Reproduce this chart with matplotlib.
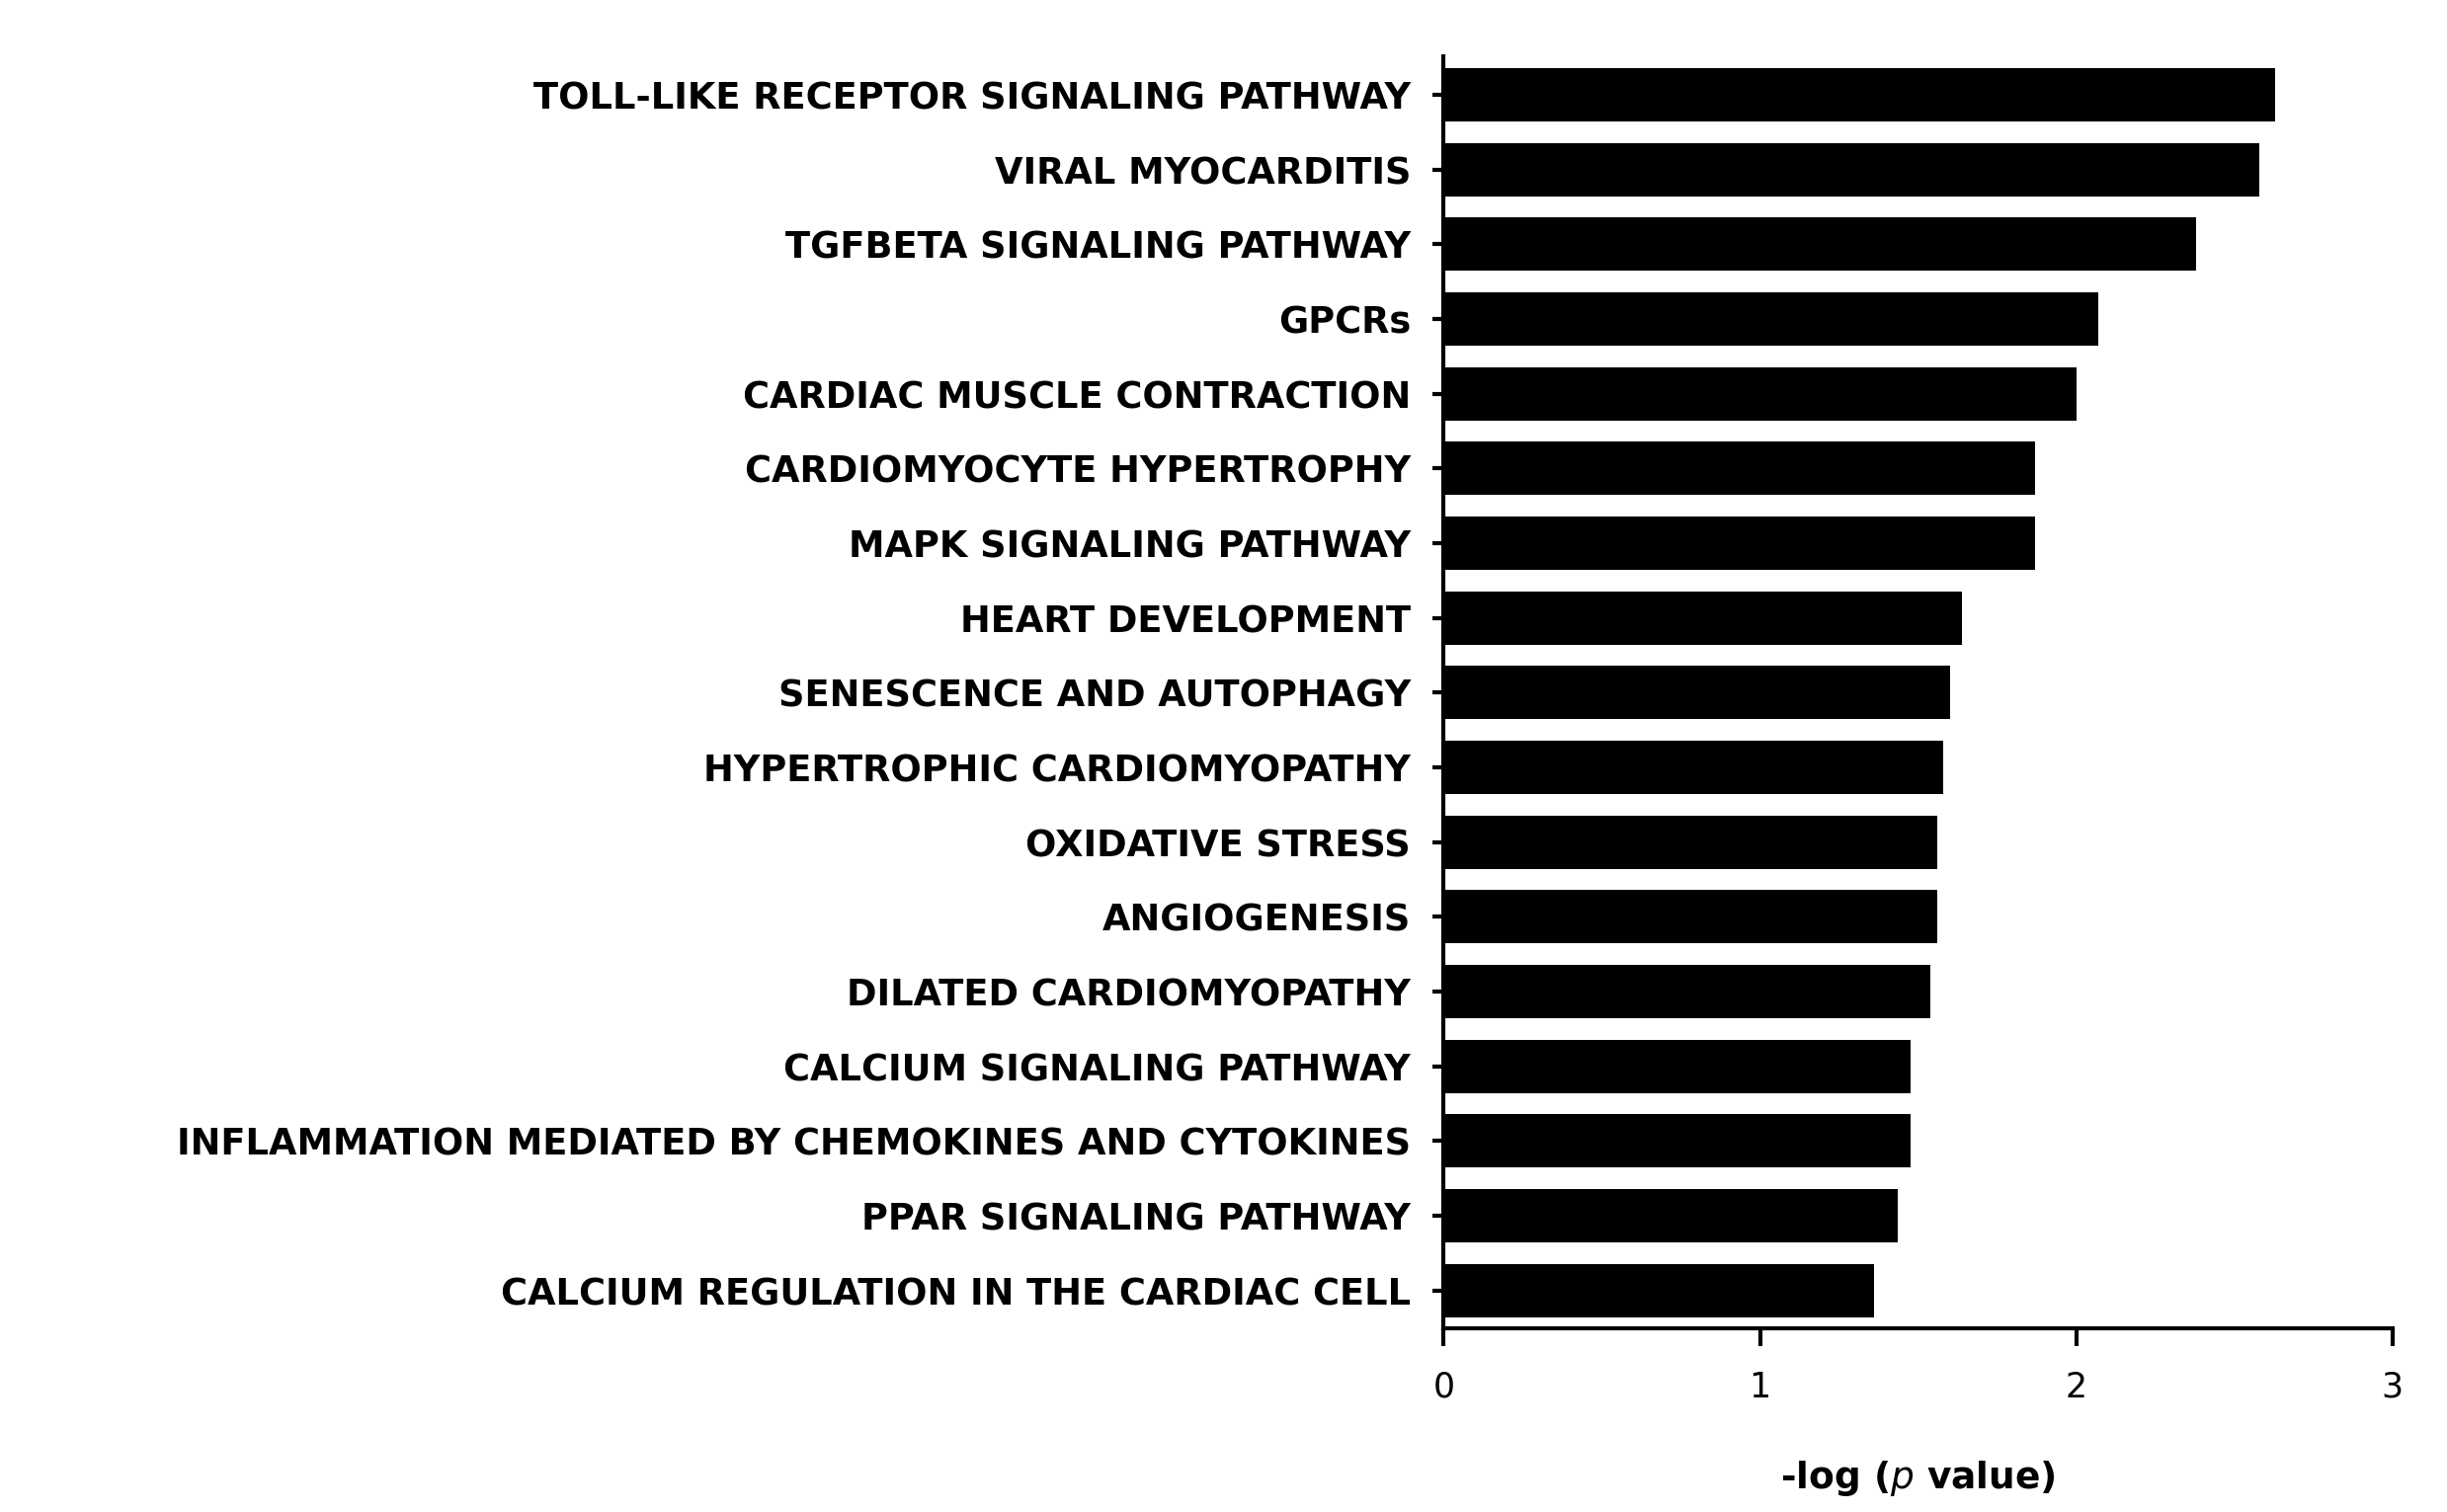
import matplotlib
matplotlib.use("Agg")
import matplotlib.pyplot as plt

categories = [
    "TOLL-LIKE RECEPTOR SIGNALING PATHWAY",
    "VIRAL MYOCARDITIS",
    "TGFBETA SIGNALING PATHWAY",
    "GPCRs",
    "CARDIAC MUSCLE CONTRACTION",
    "CARDIOMYOCYTE HYPERTROPHY",
    "MAPK SIGNALING PATHWAY",
    "HEART DEVELOPMENT",
    "SENESCENCE AND AUTOPHAGY",
    "HYPERTROPHIC CARDIOMYOPATHY",
    "OXIDATIVE STRESS",
    "ANGIOGENESIS",
    "DILATED CARDIOMYOPATHY",
    "CALCIUM SIGNALING PATHWAY",
    "INFLAMMATION MEDIATED BY CHEMOKINES AND CYTOKINES",
    "PPAR SIGNALING PATHWAY",
    "CALCIUM REGULATION IN THE CARDIAC CELL",
]
values = [2.63, 2.58, 2.38, 2.07, 2.00, 1.87, 1.87, 1.64, 1.60, 1.58,
          1.56, 1.56, 1.54, 1.475, 1.475, 1.435, 1.36]
xticks = [0, 1, 2, 3]
xlabel = r"-log ($\it{p}$ value)"

fig = plt.figure(figsize=(24.77, 15.31), dpi=100)
ax = fig.add_axes([0.590, 0.1218, 0.9777 - 0.590, 0.963 - 0.1218])

pos = list(range(len(categories)))
ax.barh(pos, values, height=0.71, color="black", edgecolor="black", linewidth=0)
ax.set_ylim(16.5, -0.52)
ax.set_xlim(0, 3)

ax.set_yticks(pos)
ax.set_yticklabels(categories, fontfamily="DejaVu Sans", fontweight="bold", fontsize=26.5)
ax.set_xticks(xticks)
ax.set_xticklabels([str(t) for t in xticks], fontfamily="DejaVu Sans", fontsize=25)

for s in ["top", "right"]:
    ax.spines[s].set_visible(False)
for s in ["left", "bottom"]:
    ax.spines[s].set_linewidth(3)
    ax.spines[s].set_color("black")

ax.tick_params(axis="y", length=8, width=3, pad=16, colors="black")
ax.tick_params(axis="x", length=13, width=3, pad=18, colors="black")

ax.set_xlabel(xlabel, fontfamily="DejaVu Sans", fontweight="bold", fontsize=27, labelpad=40)

fig.savefig("out.png", dpi=100, facecolor="white")
